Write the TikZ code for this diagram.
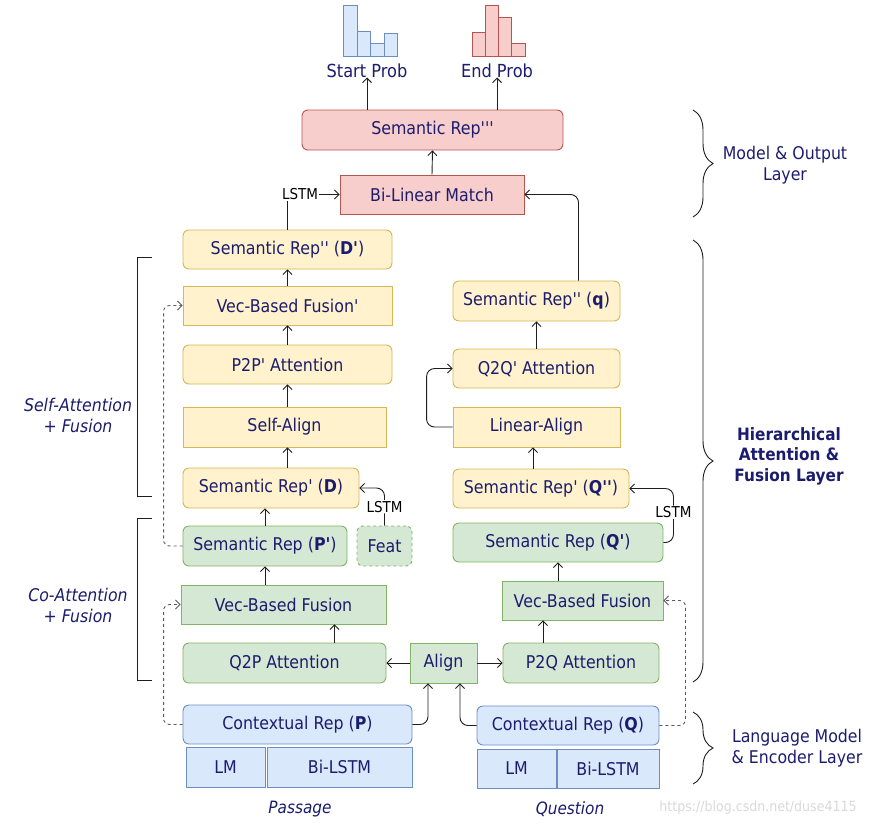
\documentclass[tikz,border=0pt]{standalone}
\usepackage{fontspec}
\newfontfamily\dmfont{DejaVu Sans}[FakeStretch=0.9]
\usepackage{tikz}
\usetikzlibrary{arrows.meta,decorations.pathreplacing}
\definecolor{dmText}{RGB}{28,28,110}
\definecolor{dmLine}{RGB}{30,30,30}
\definecolor{dmDash}{RGB}{90,90,90}
\definecolor{dmYellow}{RGB}{255,242,204}
\definecolor{dmYellowLine}{RGB}{214,182,86}
\definecolor{dmGreen}{RGB}{213,232,212}
\definecolor{dmGreenLine}{RGB}{130,179,102}
\definecolor{dmBlue}{RGB}{218,232,252}
\definecolor{dmBlueLine}{RGB}{108,142,191}
\definecolor{dmRed}{RGB}{248,206,204}
\definecolor{dmRedLine}{RGB}{184,84,80}

\begin{document}
\begin{tikzpicture}[x=1pt,y=-1pt,
  box/.style={draw, line width=0.9pt, minimum height=40pt, inner sep=0pt,
    text=dmText, font=\dmfont\fontsize{17.6}{20}\selectfont},
  rbox/.style={box, rounded corners=6pt},
  yel/.style={fill=dmYellow, draw=dmYellowLine},
  grn/.style={fill=dmGreen, draw=dmGreenLine},
  blu/.style={fill=dmBlue, draw=dmBlueLine},
  redd/.style={fill=dmRed, draw=dmRedLine},
  link/.style={line width=0.9pt, draw=dmLine, -{Straight Barb[length=4.5pt,width=9pt]}},
  skip/.style={link, dashed, draw=dmDash, rounded corners=6pt},
  lstm/.style={fill=white, inner sep=1pt, text=black, font=\dmfont\fontsize{15}{17}\selectfont},
  sidetext/.style={text=dmText, align=center, font=\dmfont\fontsize{17.5}{21}\selectfont},
  brace/.style={line width=0.9pt, draw=dmLine, decorate, decoration={brace, amplitude=20pt}}]
\useasboundingbox (0,0) rectangle (885,827);

% output layer
\foreach \xa/\xb/\top in {343/357/5, 357/370/31, 370/384/43, 384/397/33}
  \draw[line width=0.9pt, fill=dmBlue, draw=dmBlueLine] (\xa,\top) rectangle (\xb,56);
\foreach \xa/\xb/\top in {472/485/32, 485/498/5, 498/511/17, 511/525/43}
  \draw[line width=0.9pt, fill=dmRed, draw=dmRedLine] (\xa,\top) rectangle (\xb,56);
\node[sidetext, font=\dmfont\fontsize{18}{20}\selectfont] (startLbl) at (367,71) {Start Prob};
\node[sidetext, font=\dmfont\fontsize{18}{20}\selectfont] (endLbl) at (497,71) {End Prob};

\node[rbox, redd, minimum width=261pt] (semOut) at (432.5,130) {Semantic Rep'''};
\node[box, redd, minimum width=184pt, minimum height=39pt] (biLin) at (432,194.5) {Bi-Linear Match};

% passage side
\node[rbox, yel, minimum width=209pt, minimum height=39pt] (semDD) at (287.5,249.5) {Semantic Rep'' (\textbf{D'})};
\node[box, yel, minimum width=209pt, minimum height=39pt] (vecFusP2) at (287.5,305.5) {Vec-Based Fusion'};
\node[rbox, yel, minimum width=209pt, minimum height=39pt] (p2p) at (287.5,364.5) {P2P' Attention};
\node[box, yel, minimum width=203pt] (selfAlign) at (284.5,427) {Self-Align};
\node[rbox, yel, minimum width=176pt] (semD) at (271,488) {Semantic Rep' (\textbf{D})};
\node[rbox, grn, minimum width=164pt] (semP) at (265,546) {Semantic Rep (\textbf{P'})};
\node[rbox, grn, dashed, minimum width=55pt] (feat) at (384.5,546) {Feat};
\node[box, grn, minimum width=205pt, minimum height=39pt] (vecFusP) at (283.5,604.5) {Vec-Based Fusion};
\node[rbox, grn, minimum width=203pt] (q2p) at (284.5,663) {Q2P Attention};
\node[box, grn, minimum width=67pt] (align) at (443.5,663) {Align};
\node[rbox, blu, minimum width=229pt, minimum height=39pt] (ctxP) at (297.5,724.5) {Contextual Rep (\textbf{P})};
\node[box, blu, minimum width=79pt] (lmP) at (225.5,767) {LM};
\node[box, blu, minimum width=145pt] (bilstmP) at (339.5,767) {Bi-LSTM};

% question side
\node[rbox, yel, minimum width=167pt] (semq) at (536.5,301) {Semantic Rep'' (\textbf{q})};
\node[rbox, yel, minimum width=167pt, minimum height=39pt] (q2q) at (536.5,368.5) {Q2Q' Attention};
\node[box, yel, minimum width=167pt] (linAlign) at (536.5,427) {Linear-Align};
\node[rbox, yel, minimum width=176pt, minimum height=39pt] (semQQ) at (541,488.5) {Semantic Rep' (\textbf{Q''})};
\node[rbox, grn, minimum width=210pt, minimum height=39pt] (semQ) at (558,542.5) {Semantic Rep (\textbf{Q'})};
\node[box, grn, minimum width=161pt, minimum height=39pt] (vecFusQ) at (582.5,600.5) {Vec-Based Fusion};
\node[rbox, grn, minimum width=156pt] (p2q) at (581,663) {P2Q Attention};
\node[rbox, blu, minimum width=182pt, minimum height=39pt] (ctxQ) at (568,725.5) {Contextual Rep (\textbf{Q})};
\node[box, blu, minimum width=79pt, minimum height=39pt] (lmQ) at (516.5,768.5) {LM};
\node[box, blu, minimum width=102pt, minimum height=39pt] (bilstmQ) at (608,768.5) {Bi-LSTM};

\node[sidetext, font=\dmfont\itshape\fontsize{17}{20}\selectfont] (passage) at (300,809) {Passage};
\node[sidetext, font=\dmfont\itshape\fontsize{17}{20}\selectfont] (question) at (570,809) {Question};

% connectors
\draw[link] (startLbl |- semOut.north) -- ([yshift=4pt]startLbl.south);
\draw[link] (endLbl |- semOut.north) -- ([yshift=4pt]endLbl.south);
\draw[link] (biLin.north) -- (semOut.south);
\draw[link] (semDD.north) |- node[lstm, pos=0.62] {LSTM} (biLin.west);
\draw[link, rounded corners=8pt] ([xshift=42pt]semq.north) |- (biLin.east);

\draw[link] (vecFusP2.north) -- (semDD.south);
\draw[link] (p2p.north) -- (vecFusP2.south);
\draw[link] (p2p.south |- selfAlign.north) -- (p2p.south);
\draw[link] (p2p.south |- semD.north) -- (p2p.south |- selfAlign.south);
\draw[link] (semP.north) -- (semP.north |- semD.south);
\draw[link, rounded corners=8pt] (feat.north) |- node[lstm, pos=0.25] {LSTM} (semD.east);
\draw[link] (semP.south |- vecFusP.north) -- (semP.south);
\draw[link] ([xshift=50pt]q2p.north) -- ([xshift=50pt]q2p.north |- vecFusP.south);
\draw[link] (align.west) -- (q2p.east);
\draw[link] (align.east) -- (p2q.west);
\draw[link, rounded corners=8pt] (ctxP.east) -| ([xshift=-15.5pt]align.south);
\draw[link, rounded corners=8pt] (ctxQ.west) -| ([xshift=16.5pt]align.south);
\draw[skip] (semP.west) -- ++(-19,0) |- (vecFusP2.west);
\draw[skip] (ctxP.west) -- ++(-19,0) |- (vecFusP.west);
\draw[skip] (ctxQ.east) -- ++(26,0) |- (vecFusQ.east);

\draw[link] ([xshift=-38pt]p2q.north) -- ([xshift=-38pt]p2q.north |- vecFusQ.south);
\draw[link] (semQ.south |- vecFusQ.north) -- (semQ.south);
\draw[link, rounded corners=8pt] (semQ.east) -| node[lstm, pos=0.78] {LSTM} ([xshift=44pt]semQQ.east) -- (semQQ.east);
\draw[link] ([xshift=-3.5pt]linAlign.south |- semQQ.north) -- ([xshift=-3.5pt]linAlign.south);
\draw[link, rounded corners=8pt] (linAlign.west) -- ++(-26,0) |- (q2q.west);
\draw[link] (q2q.north) -- (semq.south);

% left brackets
\draw[line width=0.9pt, draw=dmLine] (152,257) -- (137,257) -- (137,496) -- (152,496);
\draw[line width=0.9pt, draw=dmLine] (152,518) -- (137,518) -- (137,680) -- (152,680);
\node[sidetext, font=\dmfont\itshape\fontsize{17.5}{21}\selectfont] (selfLbl) at (78,415) {Self-Attention\\+ Fusion};
\node[sidetext, font=\dmfont\itshape\fontsize{17.5}{21}\selectfont] (coLbl) at (78,605) {Co-Attention\\+ Fusion};

% right braces
\draw[brace] (693,110) -- (693,217);
\draw[brace] (693,240) -- (693,682);
\draw[brace] (693,712) -- (693,784);
\node[sidetext] (modelLbl) at (785,165) {Model \& Output\\Layer};
\node[sidetext, font=\dmfont\bfseries\fontsize{17}{20.5}\selectfont] (hierLbl) at (789,456) {Hierarchical\\Attention \&\\Fusion Layer};
\node[sidetext] (langLbl) at (797,748) {Language Model\\\& Encoder Layer};

\node[text=gray!30, font=\dmfont\fontsize{14}{16}\selectfont] (mark) at (758,808) {https://blog.csdn.net/duse4115};
\end{tikzpicture}
\end{document}
